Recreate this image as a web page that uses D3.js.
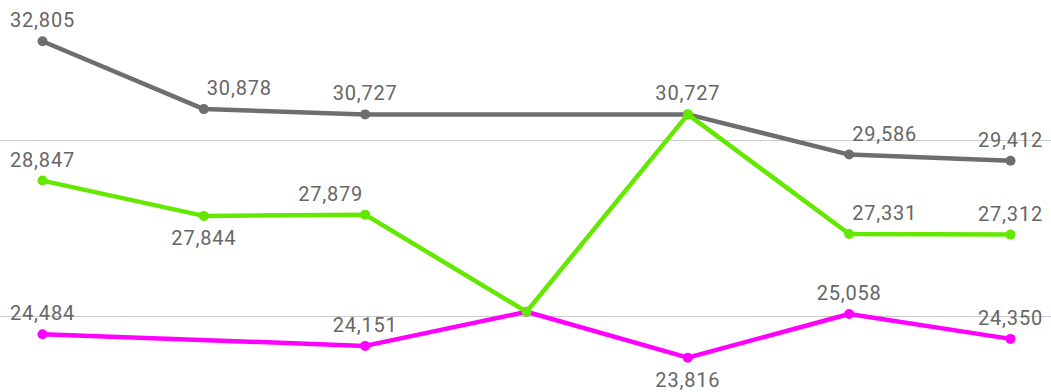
<!DOCTYPE html>
<html>
<head>
<meta charset="utf-8">
<script src="https://cdn.jsdelivr.net/npm/d3@7"></script>
<style>
  html, body { margin: 0; padding: 0; background: #fff; }
  svg { display: block; }
</style>
</head>
<body>
<svg id="chart" width="1051" height="392"></svg>
<script>
// ---- data ----
const categories = ["P1", "P2", "P3", "P4", "P5", "P6", "P7"];
const grayValues    = [32805, 30878, 30727, null, 30727, 29586, 29412];
const greenValues   = [28847, 27844, 27879, 25120, 30727, 27331, 27312];
const magentaValues = [24484, null, 24151, 25120, 23816, 25058, 24350];
const gridValues = [25000, 30000];
// which value labels are shown / where they sit ("a" above, "b" below, "ar" above-right, "al" above-left, "" none)
const grayLabels    = ["a", "ar", "a", "", "a", "ar", "a"];
const greenLabels   = ["a", "b", "al", "", "", "ar", "a"];
const magentaLabels = ["a", "", "a", "", "b", "a", "a"];

const series = [
  { name: "gray", values: grayValues, labels: grayLabels, color: "#6e6e6e" },
  { name: "magenta", values: magentaValues, labels: magentaLabels, color: "#ff00ff" },
  { name: "green", values: greenValues, labels: greenLabels, color: "#64e800" }
];

const W = 1051, H = 392;
const svg = d3.select("#chart");

const x = d3.scalePoint().domain(categories).range([42.5, 1010.5]);
const y = d3.scaleLinear().domain([25000, 30000]).range([316, 140]);

// gridlines
svg.append("g").selectAll("line").data(gridValues).join("line")
  .attr("x1", 0).attr("x2", W)
  .attr("y1", d => Math.round(y(d)) + 0.5).attr("y2", d => Math.round(y(d)) + 0.5)
  .attr("stroke", "#cccccc").attr("stroke-width", 1);

const line = d3.line().x(d => x(d.c)).y(d => y(d.v));

const marks = svg.append("g");
series.forEach(s => {
  const pts = categories.map((c, i) => ({ c, v: s.values[i], lab: s.labels[i] })).filter(d => d.v != null);
  marks.append("path").datum(pts)
    .attr("d", line).attr("fill", "none")
    .attr("stroke", s.color).attr("stroke-width", 4.5)
    .attr("stroke-linejoin", "round").attr("stroke-linecap", "round");
  marks.append("g").selectAll("circle").data(pts).join("circle")
    .attr("cx", d => x(d.c)).attr("cy", d => y(d.v)).attr("r", 5)
    .attr("fill", s.color);
  s.pts = pts;
});

const fmt = d3.format(",");
const labelsG = svg.append("g")
  .attr("font-family", "Roboto, 'DejaVu Sans', sans-serif")
  .attr("font-size", 20).attr("fill", "#666666")
  .attr("letter-spacing", "0.8px");
series.forEach(s => {
  labelsG.append("g").selectAll("text").data(s.pts.filter(d => d.lab)).join("text")
    .attr("x", d => x(d.c) + (d.lab === "ar" ? 3 : d.lab === "al" ? -2 : 0))
    .attr("y", d => y(d.v) + (d.lab === "b" ? 29 : -14))
    .attr("text-anchor", d => d.lab === "ar" ? "start" : d.lab === "al" ? "end" : "middle")
    .text(d => fmt(d.v));
});
</script>
</body>
</html>
